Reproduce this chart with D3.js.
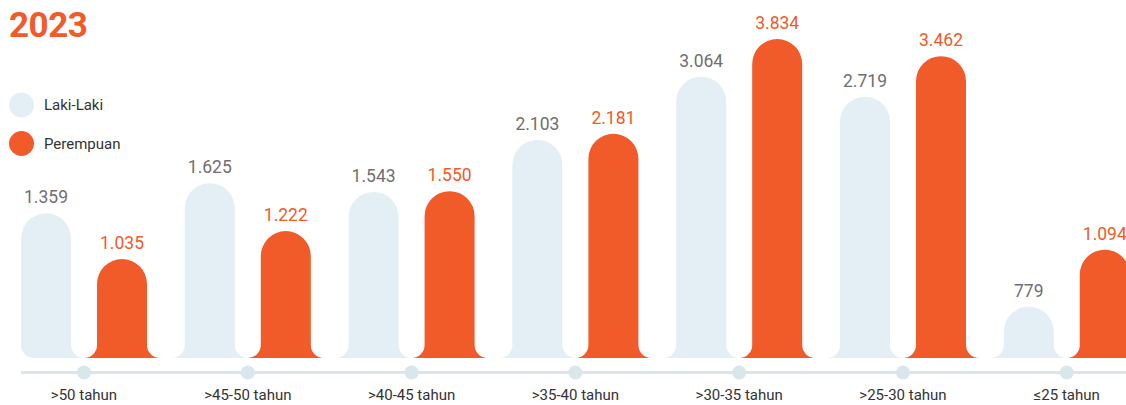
<!DOCTYPE html>
<html>
<head>
<meta charset="utf-8">
<script src="https://cdn.jsdelivr.net/npm/d3@7"></script>
<style>
    body { margin: 0; background: #fff; }
    svg { display: block; font-family: Roboto, "Noto Sans", sans-serif; }
</style>
</head>
<body>
<script>
const categories = [">50 tahun", ">45-50 tahun", ">40-45 tahun", ">35-40 tahun", ">30-35 tahun", ">25-30 tahun", "≤25 tahun"];
const lakiLaki = [1359, 1625, 1543, 2103, 3064, 2719, 779];
const perempuan = [1035, 1222, 1550, 2181, 3834, 3462, 1094];
const seriesNames = ["Laki-Laki", "Perempuan"];
const valueLabels = v => d3.format(",")(v).replace(",", ".");

const width = 1126;
const height = 405;
const baseline = 358;
const barW = 50;
const inner = 13;   // half of the gap between the two bars of a group
const fillet = 13;

const light = "#e3eff4";
const orange = "#f15a29";

let svg = d3.select("body")
    .append("svg")
    .attr("width", width)
    .attr("height", height);

let x = d3.scalePoint()
    .domain(categories)
    .range([84, 1066.8]);

// bar heights in the picture grow roughly with the log of the value
let y = d3.scaleLog()
    .domain([574, 3834])
    .range([baseline, 39]);

function barPath(x0, top, convexLeft) {
    let x1 = x0 + barW;
    let r = barW / 2;
    let p = "";
    if (convexLeft) {
        p += `M${x0 + fillet},${baseline} A${fillet},${fillet} 0 0 1 ${x0},${baseline - fillet}`;
    } else {
        p += `M${x0 - fillet},${baseline} A${fillet},${fillet} 0 0 0 ${x0},${baseline - fillet}`;
    }
    p += ` L${x0},${top + r} A${r},${r} 0 0 1 ${x1},${top + r}`;
    p += ` L${x1},${baseline - fillet} A${fillet},${fillet} 0 0 0 ${x1 + fillet},${baseline} Z`;
    return p;
}

let bars = [];
categories.forEach((c, i) => {
    bars.push({ cat: c, value: lakiLaki[i], x0: x(c) - inner - barW, color: light, text: "#6f6f6f", first: i === 0 });
    bars.push({ cat: c, value: perempuan[i], x0: x(c) + inner, color: orange, text: orange, first: false });
});

svg.selectAll("path.bar")
    .data(bars)
    .enter()
    .append("path")
    .attr("class", "bar")
    .attr("d", d => barPath(d.x0, y(d.value), d.first))
    .attr("fill", d => d.color);

svg.selectAll("text.value")
    .data(bars)
    .enter()
    .append("text")
    .attr("class", "value")
    .attr("x", d => d.x0 + barW / 2)
    .attr("y", d => y(d.value) - 10)
    .attr("text-anchor", "middle")
    .attr("font-size", 17.5)
    .attr("fill", d => d.text)
    .text(d => valueLabels(d.value));

// axis
svg.append("line")
    .attr("x1", 21)
    .attr("x2", width)
    .attr("y1", 372.5)
    .attr("y2", 372.5)
    .attr("stroke", "#d9e7ed")
    .attr("stroke-width", 3);

svg.selectAll("circle.tick")
    .data(categories)
    .enter()
    .append("circle")
    .attr("class", "tick")
    .attr("cx", d => x(d))
    .attr("cy", 372.5)
    .attr("r", 7)
    .attr("fill", "#d9e7ed");

svg.selectAll("text.cat")
    .data(categories)
    .enter()
    .append("text")
    .attr("class", "cat")
    .attr("x", d => x(d))
    .attr("y", 400)
    .attr("text-anchor", "middle")
    .attr("font-size", 15)
    .attr("fill", "#333")
    .text(d => d);

// title
svg.append("text")
    .attr("x", 9)
    .attr("y", 37)
    .attr("font-size", 35)
    .attr("font-weight", 700)
    .attr("letter-spacing", -0.5)
    .attr("fill", orange)
    .text("2023");

// legend
let legend = svg.selectAll("g.legend")
    .data(seriesNames)
    .enter()
    .append("g")
    .attr("class", "legend")
    .attr("transform", (d, i) => `translate(21.5, ${105 + i * 38.5})`);

legend.append("circle")
    .attr("r", 12.5)
    .attr("fill", (d, i) => i === 0 ? light : orange);

legend.append("text")
    .attr("x", 22.5)
    .attr("dy", "0.35em")
    .attr("font-size", 15)
    .attr("fill", "#333")
    .text(d => d);
</script>
</body>
</html>
